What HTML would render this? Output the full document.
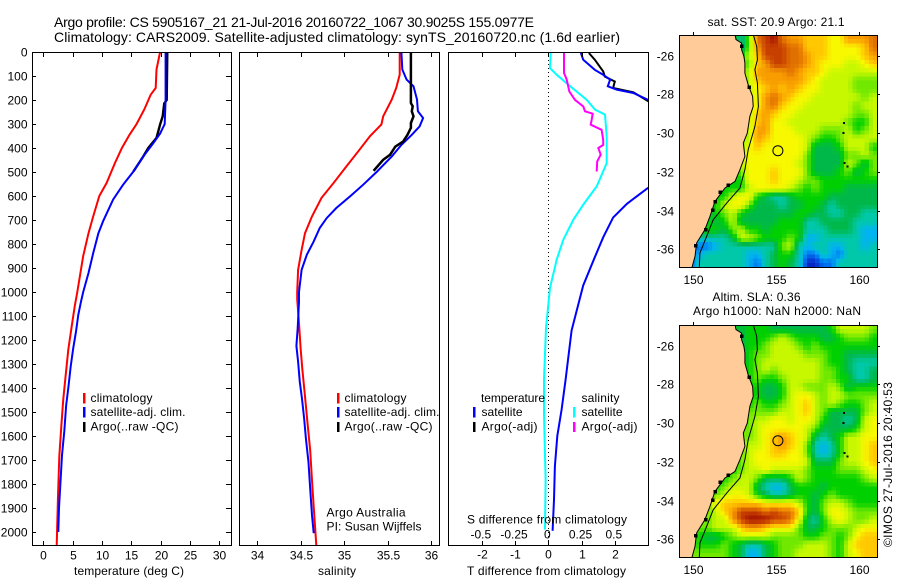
<!DOCTYPE html>
<html lang="en">
<head>
<meta charset="utf-8">
<title>Argo profile CS 5905167_21</title>
<style>
html,body{margin:0;padding:0;background:#fff;width:900px;height:580px;overflow:hidden}
svg{display:block;font-family:"Liberation Sans",sans-serif;font-size:12px;fill:#000}
</style>
</head>
<body>
<svg id="chart" xmlns="http://www.w3.org/2000/svg" width="900" height="580" viewBox="0 0 900 580">
  <defs>
    <clipPath id="clip-p3"><rect x="448" y="52" width="200" height="493"/></clipPath>
    <clipPath id="clip-m1"><rect x="679" y="35" width="198" height="232"/></clipPath>
    <clipPath id="clip-m2"><rect x="679" y="325" width="198" height="232"/></clipPath>
  </defs>
  <g id="maps"></g>
  <g id="profiles"></g>
  <g id="axes"></g>

  <text x="54" y="27" font-size="14" textLength="480">Argo profile: CS 5905167_21 21-Jul-2016 20160722_1067 30.9025S 155.0977E</text>
  <text x="54" y="42" font-size="14" textLength="566">Climatology: CARS2009. Satellite-adjusted climatology: synTS_20160720.nc (1.6d earlier)</text>

  <text x="74" y="575" textLength="110">temperature (deg C)</text>
  <text x="318" y="575" textLength="38">salinity</text>
  <text x="467" y="575" textLength="159">T difference from climatology</text>
  <text x="467" y="523.5" textLength="160">S difference from climatology</text>

  <g>
    <rect x="83" y="393" width="2.5" height="10.5" fill="#f00"/>
    <text x="90.5" y="402" textLength="62">climatology</text>
    <rect x="83" y="407" width="2.5" height="10.5" fill="#00f"/>
    <text x="90.5" y="416" textLength="95">satellite-adj. clim.</text>
    <rect x="83" y="422" width="2.5" height="10" fill="#000"/>
    <text x="90.5" y="430.5" textLength="88">Argo(..raw -QC)</text>
  </g>
  <g>
    <rect x="337" y="393" width="2.5" height="10.5" fill="#f00"/>
    <text x="344.5" y="402" textLength="62">climatology</text>
    <rect x="337" y="407" width="2.5" height="10.5" fill="#00f"/>
    <text x="344.5" y="416" textLength="95">satellite-adj. clim.</text>
    <rect x="337" y="422" width="2.5" height="10" fill="#000"/>
    <text x="344.5" y="430.5" textLength="88">Argo(..raw -QC)</text>
  </g>
  <g>
    <text x="326.5" y="516.5" textLength="79">Argo Australia</text>
    <text x="326.5" y="530.5" textLength="95">PI: Susan Wijffels</text>
  </g>
  <g>
    <text x="481" y="402" textLength="64">temperature</text>
    <rect x="473" y="407" width="2.5" height="10.5" fill="#00f"/>
    <text x="481.5" y="416" textLength="41">satellite</text>
    <rect x="473" y="422" width="2.5" height="10" fill="#000"/>
    <text x="481.5" y="430.5" textLength="56">Argo(-adj)</text>
    <text x="581.5" y="402" textLength="38">salinity</text>
    <rect x="573" y="407" width="2.5" height="10.5" fill="#0ff"/>
    <text x="581.5" y="416" textLength="41">satellite</text>
    <rect x="573" y="422" width="2.5" height="10" fill="#f0f"/>
    <text x="581.5" y="430.5" textLength="56">Argo(-adj)</text>
  </g>

  <text x="707.5" y="26" textLength="137">sat. SST: 20.9 Argo: 21.1</text>
  <text x="712.5" y="301" textLength="88">Altim. SLA: 0.36</text>
  <text x="693" y="315" textLength="168">Argo h1000: NaN h2000: NaN</text>
  <text transform="translate(892 547) rotate(-90)" textLength="165">©IMOS 27-Jul-2016 20:40:53</text>
</svg>

<script>
/* ---------- temperature panel data ---------- */
const tempClimDepth = [0,73,150,178,240,300,345,400,463,545,600,685,755,850,1000,1060,1143,1240,1350,1450,1560,1685,1850,2057];
const tempClimValue = [19.9,19.3,19.15,18.3,17.2,15.9,14.7,13.4,12.2,10.8,9.55,8.5,7.7,6.8,5.8,5.35,4.84,4.26,3.8,3.4,3.07,2.73,2.5,2.28];
const tempSatDepth = [0,200,300,340,380,435,498,553,615,705,755,838,921,1000,1040,1095,1165,1235,1310,1400,1470,1580,1680,1805,1900,2000];
const tempSatValue = [20.85,20.85,20.7,19.9,18.75,17.05,15.35,13.6,11.9,10.2,9.4,8.5,7.7,6.8,6.43,5.97,5.57,5.1,4.67,4.26,3.9,3.58,3.19,2.9,2.68,2.56];
const tempArgoDepth = [0,200,215,268,302,358,400,435,498];
const tempArgoValue = [21.14,21.03,20.6,20.35,19.9,19.3,17.9,17.05,15.35];

/* ---------- salinity panel data ---------- */
const salClimDepth = [0,94,150,198,268,302,350,420,475,545,608,685,755,825,908,1000,1030,1130,1240,1325,1435,1550,1660,1785,1895,2055];
const salClimValue = [35.64,35.64,35.6,35.55,35.45,35.43,35.3,35.15,35.03,34.88,34.74,34.63,34.55,34.51,34.47,34.46,34.46,34.48,34.5,34.52,34.55,34.58,34.61,34.63,34.65,34.68];
const salSatDepth = [0,73,115,143,198,247,275,310,345,387,435,498,553,601,650,692,733,789,845,908,1000,1040,1150,1225,1290,1375,1445,1530,1610,1710,1820,1930,2005];
const salSatValue = [35.66,35.67,35.72,35.8,35.84,35.85,35.91,35.87,35.78,35.66,35.55,35.38,35.22,35.07,34.91,34.8,34.72,34.65,34.57,34.51,34.48,34.48,34.465,34.45,34.47,34.49,34.515,34.54,34.56,34.59,34.61,34.63,34.65];
const salArgoDepth = [0,213,226,247,268,296,316,345,373,394,428,449,495];
const salArgoValue = [35.77,35.77,35.79,35.78,35.8,35.77,35.77,35.73,35.68,35.59,35.53,35.45,35.34];

/* ---------- difference panel data ---------- */
const dsSatDepth = [4,67,95,136,171,199,240,261,352,463,560,636,699,782,865,983,1150,1365,1504,1629,1781,1990];
const dsSatValue = [0.018,0.013,0.063,0.15,0.226,0.289,0.351,0.426,0.439,0.439,0.364,0.263,0.188,0.113,0.063,0.013,-0.017,-0.032,-0.032,-0.027,-0.02,-0.025];
const dsArgoDepth = [4,87,115,164,199,227,247,257,282,303,324,366,387,400,428,456,498];
const dsArgoValue = [0.118,0.118,0.138,0.158,0.2,0.263,0.276,0.334,0.326,0.319,0.401,0.413,0.413,0.376,0.394,0.368,0.364];
const dtSatDepth = [4,32,74,95,115,143,157,171,199,300,450,568,633,690,772,855,973,1160,1365,1490,1600,1725,1865,1995];
const dtSatValue = [0.98,1.05,1.4,1.65,1.86,1.79,2.06,2.56,3,4.8,4.5,2.98,2.36,1.95,1.65,1.4,1.05,0.7,0.52,0.4,0.27,0.2,0.17,0.13];
const dtArgoDepth = [4,32,81,102,123,150,168,213];
const dtArgoValue = [1.22,1.4,1.65,1.7,2,1.95,2.56,3.1];

/* ---------- tick labels ---------- */
const depthTicks = [0,100,200,300,400,500,600,700,800,900,1000,1100,1200,1300,1400,1500,1600,1700,1800,1900,2000];
const tempTicks = [0,5,10,15,20,25,30];
const salTicks = ["34","34.5","35","35.5","36"];
const dtTicks = [-2,-1,0,1,2];
const dsTicks = ["-0.5","-0.25","0","0.25","0.5"];
const lonTicks = [150,155,160];
const latTicks = [-26,-28,-30,-32,-34,-36];

/* ---------- map data: one row per latitude band, one hex digit per longitude cell ---------- */
const sstGrid = [
"5555555"+"36bcdbaa99988aaab",
"5555555"+"36acccbb99988889b",
"5555555"+"579cccbba9988889a",
"5555555"+"569accbba98887789",
"5555555"+"67aaaaba998777777",
"5555555"+"579aaaaa987777666",
"5555555"+"5789a9a9887777666",
"5555555"+"678aba98877777767",
"5555555"+"678ab988777777677",
"5555555"+"679a9887777777667",
"5555555"+"679a8877777776557",
"5555555"+"67aa8887776667567",
"5555555"+"67a98888765567777",
"5555555"+"68988888744457775",
"5555555"+"78888888644446676",
"5555555"+"78888887644447646",
"5555555"+"68889888644456456",
"5555555"+"58889887665555555",
"5555555"+"57888876565554444",
"5555557"+"88543345555444444",
"5554578"+"86444344554344444",
"5554567"+"54444445544334433",
"5545457"+"44444555334444333",
"5555546"+"75545555333444322",
"5533334"+"77655565223333322",
"5111233"+"33333673233223323",
"5123333"+"32234553113213333",
"5133333"+"32134543001133333"];
const slaGrid = [
"5555555"+"45554444444577776",
"5555555"+"45556765554456665",
"5555555"+"45567776565555555",
"5555555"+"45667777666554444",
"5555555"+"45677777776554333",
"5555555"+"55676777776654334",
"5555555"+"55655677776655334",
"5555555"+"55544577666764555",
"5555555"+"55544578876776666",
"5555555"+"55655678976765567",
"5555555"+"56666778976444467",
"5555555"+"56778878875443478",
"5555555"+"66788888764444578",
"5555555"+"66789a98743457788",
"5555555"+"67789a98632357789",
"5555555"+"67889988632357789",
"5555555"+"67888888744467789",
"5555555"+"67787777655566678",
"5555556"+"77644457655555567",
"5555567"+"77432245554555555",
"5555678"+"87543345545655555",
"555" + "6899"+"99988887546776555",
"5566"+"79a"+"cccbcbb9546887666",
"5566"+"77a"+"cdddccb8435787667",
"5566"+"777"+"9aa98886445666788",
"5654456"+"77776666556656899",
"5655565"+"43345666777657999",
"5666665"+"42245667777657899"];
const colorStops = ["#0a28c8","#0070f0","#00b4f0","#00c8a8","#00b84a","#00d000","#70e800","#c8f800","#f8f800","#ffc800","#f89c00","#e07000","#c84000","#a01000"];

const coastLon = [152.51,152.57,152.91,152.91,153.05,153.11,153.11,153.31,153.57,153.61,153.41,153.25,153.01,153.11,152.81,152.51,151.91,151.31,151,150.7,150.2,150.1,149.9];
const coastLat = [-24.9,-25.17,-25.35,-25.69,-26.03,-26.38,-26.9,-27.5,-28.1,-28.62,-29.13,-29.99,-30.51,-31.2,-31.89,-32.49,-32.83,-33.52,-34.3,-34.98,-35.67,-36.36,-37];
const isobathLon = [153.61,153.82,153.86,153.71,153.86,153.92,153.71,153.31,153.11,152.81,152.01,151.2,150.8,150.4,150.36];
const isobathLat = [-24.9,-25.52,-26.21,-26.72,-27.41,-28.62,-29.65,-30.85,-31.89,-32.83,-33.61,-34.47,-35.33,-36.19,-37];
const islandLon = [152.91,153.37,152.11,151.61,151.31,151.16,150.76,150.16,159.08,159.04,159.1,159.28];
const islandLat = [-25.52,-27.62,-32.68,-33.06,-33.54,-33.99,-34.98,-35.81,-29.48,-29.99,-31.54,-31.71];
const floatLon = 155.0977;
const floatLat = -30.9025;

/* ---------- axis functions ---------- */
const NS = "http://www.w3.org/2000/svg";
const yD = d => 52 + d * 0.24;
const xT = v => 43.3 + v * 5.867;
const xS = v => 257.3 + (v - 34) * 86.8;
const xDT = v => 548.3 + v * 33.25;
const xDS = v => 548.3 + v * 133;
const mapX = lon => 693.3 + (lon - 150) * 16.6;
const mapY = (lat, top) => top + 20.7 + (-26 - lat) * 19.37;

function mk(parent, tag, attrs, text) {
  const el = document.createElementNS(NS, tag);
  for (const k in attrs) el.setAttribute(k, attrs[k]);
  if (text !== undefined) el.textContent = text;
  parent.appendChild(el);
  return el;
}
function hex2rgb(h) { return [1,3,5].map(i => parseInt(h.substr(i,2),16)); }
function colorOf(v) {
  const i = Math.max(0, Math.min(colorStops.length - 2, Math.floor(v)));
  const f = Math.max(0, Math.min(1, v - i));
  const a = hex2rgb(colorStops[i]), b = hex2rgb(colorStops[i+1]);
  return "rgb(" + a.map((c,k) => Math.round(c + (b[k]-c)*f)).join(",") + ")";
}

const axes = document.getElementById("axes");
const profiles = document.getElementById("profiles");
const maps = document.getElementById("maps");

/* ---------- panel frames and ticks ---------- */
function frame(x0, x1, name) {
  const el = mk(axes, "rect", {x:x0+0.5, y:52.5, width:x1-x0, height:493, fill:"none", stroke:"#000", "stroke-width":1, "shape-rendering":"crispEdges"});
  
  
}
function tick(x1, y1, x2, y2) {
  const el = mk(axes, "line", {x1:x1, y1:y1, x2:x2, y2:y2, stroke:"#000", "stroke-width":1, "shape-rendering":"crispEdges"});
  
  
}
function label(x, y, str, anchor) {
  const el = mk(axes, "text", {x:x, y:y, "text-anchor":anchor}, str);
  
  
}
frame(32, 231, "temperature-panel-frame");
frame(239, 439, "salinity-panel-frame");
frame(448, 648, "difference-panel-frame");

depthTicks.forEach(d => {
  const y = Math.round(yD(d)) + 0.5;
  tick(32, y, 36, y);
  tick(226, y, 231, y);
  label(27.5, y + 4, String(d), "end");
});
tempTicks.forEach(v => {
  const x = Math.round(xT(v)) + 0.5;
  tick(x, 52, x, 57);
  tick(x, 541, x, 546);
  label(x, 559.5, String(v), "middle");
});
salTicks.forEach(s => {
  const x = Math.round(xS(parseFloat(s))) + 0.5;
  tick(x, 52, x, 57);
  tick(x, 541, x, 546);
  label(x, 559.5, s, "middle");
});
dtTicks.forEach(v => {
  const x = Math.round(xDT(v)) + 0.5;
  tick(x, 52, x, 57);
  tick(x, 541, x, 546);
  label(x, 558.5, String(v), "middle");
});
dsTicks.forEach(s => {
  label(xDS(parseFloat(s)) - 1, 538.5, s, "middle");
});

/* ---------- profile lines ---------- */
function series(depths, values, xf, color, name, clip, width) {
  const pts = depths.map((d,i) => xf(values[i]).toFixed(1) + "," + yD(d).toFixed(1)).join(" ");
  const el = mk(profiles, "polyline", {points:pts, fill:"none", stroke:color, "stroke-width":width || 2, "stroke-linejoin":"miter"});
  if (clip) el.setAttribute("clip-path", "url(#clip-p3)");
  
  
}
series(tempClimDepth, tempClimValue, xT, "#f00", "temperature-climatology-line");
series(tempArgoDepth, tempArgoValue, xT, "#000", "temperature-argo-line", false, 2.4);
series(tempSatDepth, tempSatValue, xT, "#00f", "temperature-satellite-line");
series(salClimDepth, salClimValue, xS, "#f00", "salinity-climatology-line");
series(salSatDepth, salSatValue, xS, "#00f", "salinity-satellite-line");
series(salArgoDepth, salArgoValue, xS, "#000", "salinity-argo-line", false, 2.5);

const zeroLine = mk(profiles, "line", {x1:548.5, y1:52, x2:548.5, y2:545, stroke:"#000", "stroke-width":1, "stroke-dasharray":"1 3"});



series(dsSatDepth, dsSatValue, xDS, "#0ff", "s-difference-satellite-line", true);
series(dtArgoDepth, dtArgoValue, xDT, "#000", "t-difference-argo-line", true);
series(dtSatDepth, dtSatValue, xDT, "#00f", "t-difference-satellite-line", true);
series(dsArgoDepth, dsArgoValue, xDS, "#f0f", "s-difference-argo-line", true);

/* ---------- maps ---------- */
function drawMap(grid, top, clipId, name) {
  const g = mk(maps, "g", {"clip-path":"url(#" + clipId + ")", "shape-rendering":"crispEdges"});
  
  
  const rows = grid.length, cols = 24, sub = 2;
  const cw = 198 / cols, ch = 232 / rows;
  const val = (r,c) => parseInt(grid[Math.max(0,Math.min(rows-1,r))][Math.max(0,Math.min(cols-1,c))], 16);
  for (let r = 0; r < rows * sub; r++) {
    for (let c = 0; c < cols * sub; c++) {
      const fr = (r + 0.5) / sub - 0.5, fc = (c + 0.5) / sub - 0.5;
      const r0 = Math.floor(fr), c0 = Math.floor(fc), tr = fr - r0, tc = fc - c0;
      const v = val(r0,c0)*(1-tr)*(1-tc) + val(r0,c0+1)*(1-tr)*tc + val(r0+1,c0)*tr*(1-tc) + val(r0+1,c0+1)*tr*tc;
      const cell = mk(g, "rect", {x:(679 + c*cw/sub).toFixed(2), y:(top + r*ch/sub).toFixed(2), width:(cw/sub+0.5).toFixed(2), height:(ch/sub+0.5).toFixed(2), fill:colorOf(v)});
      
      
    }
  }
  const coastPts = coastLon.map((lon,i) => mapX(lon).toFixed(1) + "," + mapY(coastLat[i], top).toFixed(1));
  const land = mk(g, "polygon", {points:"679," + top + " " + coastPts.join(" ") + " 679," + (top+232), fill:"#ffcc99", stroke:"none"});
  
  
  const coast = mk(g, "polyline", {points:coastPts.join(" "), fill:"none", stroke:"#000", "stroke-width":1, "shape-rendering":"auto"});
  
  
  const iso = mk(g, "polyline", {points:isobathLon.map((lon,i) => mapX(lon).toFixed(1) + "," + mapY(isobathLat[i], top).toFixed(1)).join(" "), fill:"none", stroke:"#000", "stroke-width":1, "shape-rendering":"auto"});
  
  
  islandLon.forEach((lon,i) => {
    const s = i < 8 ? 3.5 : 2;
    const isl = mk(g, "rect", {x:(mapX(lon)-s/2).toFixed(1), y:(mapY(islandLat[i], top)-s/2).toFixed(1), width:s, height:s, fill:"#000"});
    
    
  });
  const marker = mk(g, "circle", {cx:mapX(floatLon).toFixed(1), cy:mapY(floatLat, top).toFixed(1), r:5, fill:"none", stroke:"#000", "stroke-width":1, "shape-rendering":"auto"});
  
  

  const border = mk(axes, "rect", {x:679.5, y:top+0.5, width:198, height:232, fill:"none", stroke:"#000", "stroke-width":1, "shape-rendering":"crispEdges"});
  
  

  lonTicks.forEach(lon => {
    const x = Math.round(mapX(lon)) + 0.5;
    tick(x, top-3, x, top);
    label(x, top + 249, String(lon), "middle");
  });
  latTicks.forEach(lat => {
    const y = Math.round(mapY(lat, top)) + 0.5;
    tick(877, y, 880, y);
    label(674, y + 4, String(lat), "end");
  });
}
drawMap(sstGrid, 35, "clip-m1", "sst");
drawMap(slaGrid, 325, "clip-m2", "sla");
</script>
</body>
</html>
